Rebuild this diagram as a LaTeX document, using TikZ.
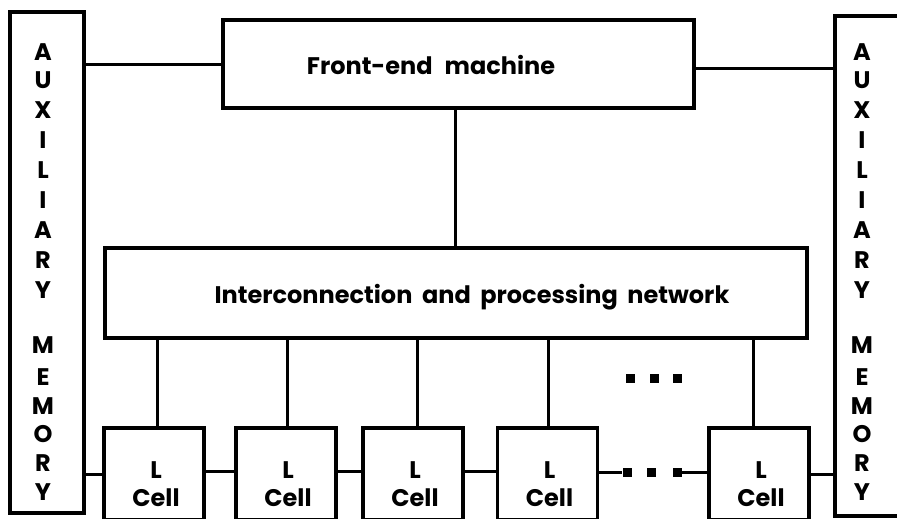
\documentclass[tikz,border=0pt]{standalone}
\usepackage{fontspec}
\setmainfont{Poppins}
\begin{document}
\begin{tikzpicture}[x=1pt,y=-1pt,
  box/.style={draw,line width=3.2pt,inner sep=0pt},
  conn/.style={line width=3pt},
  lbl/.style={font=\fontsize{24}{28}\selectfont\bfseries},
  auxtxt/.style={font=\fontsize{24}{26}\selectfont\bfseries,inner sep=0pt},
  celltxt/.style={font=\fontsize{24}{28}\selectfont\bfseries,align=center,inner sep=0pt},
  cellbox/.style={box,minimum width=100pt,minimum height=92pt},
  dot/.style={fill,inner sep=0pt,minimum size=9pt}]
\useasboundingbox (0,0) rectangle (897,519);
\clip (0,0) rectangle (897,519);
% auxiliary memories
\node[box,minimum width=74pt,minimum height=501pt] (auxL) at (47,262.5) {};
\node[box,minimum width=74pt,minimum height=500pt] (auxR) at (872,266) {};
\foreach \ch/\yy [count=\i] in {A/52,U/80,X/110,I/140,L/170,I/200,A/230,R/260,Y/290,M/345,E/377,M/406,O/434,R/463,Y/492}{
  \node[auxtxt] (la\i) at (43,\yy) {\ch};
  \node[auxtxt] (ra\i) at (862,\yy) {\ch};
}
% front-end machine
\node[box,minimum width=471pt,minimum height=88pt] (fe) at (458.5,64) {};
\node[lbl] (fetxt) at (431,65) {Front-end\hspace{0.5em}machine};
% network
\node[box,minimum width=702pt,minimum height=90pt] (net) at (456,293) {};
\node[lbl] (nettxt) at (472,297) {Interconnection\hspace{0.4em}and\hspace{0.4em}processing\hspace{0.4em}network};
% cells
\foreach \i/\xx in {1/154,2/286,3/413,4/547.5,5/759}{
  \node[cellbox] (c\i) at (\xx,474) {};
  \node[celltxt] (ct\i) at (\xx+2,484) {L\\Cell};
}
% dots
\node[dot] (d1) at (627,472) {};
\node[dot] (d2) at (651,472) {};
\node[dot] (d3) at (677,472) {};
\node[dot] (u1) at (630,378) {};
\node[dot] (u2) at (654,378) {};
\node[dot] (u3) at (677,378) {};
% connectors
\draw[conn] (auxL.east |- 0,65) -- (fe.west |- 0,65);
\draw[conn] (fe.east |- 0,69) -- (auxR.west |- 0,69);
\draw[conn] (455,108) coordinate (feb) -- (feb |- net.north);
\foreach \i/\xx in {1/157,2/287,3/417,4/548,5/753}{
  \draw[conn] (\xx,338) coordinate (nb\i) -- (nb\i |- c\i.north);
}
\draw[conn] (auxL.east |- c1.west) -- (c1.west);
\draw[conn] (c1.east |- 0,471) -- (c2.west |- 0,471);
\draw[conn] (c2.east |- 0,471) -- (c3.west |- 0,471);
\draw[conn] (c3.east |- 0,471) -- (c4.west |- 0,471);
\draw[conn] (c4.east |- d1) -- (d1);
\draw[conn] (d3) -- (c5.west |- d3);
\draw[conn] (c5.east) -- (auxR.west |- c5.east);
\end{tikzpicture}
\end{document}
